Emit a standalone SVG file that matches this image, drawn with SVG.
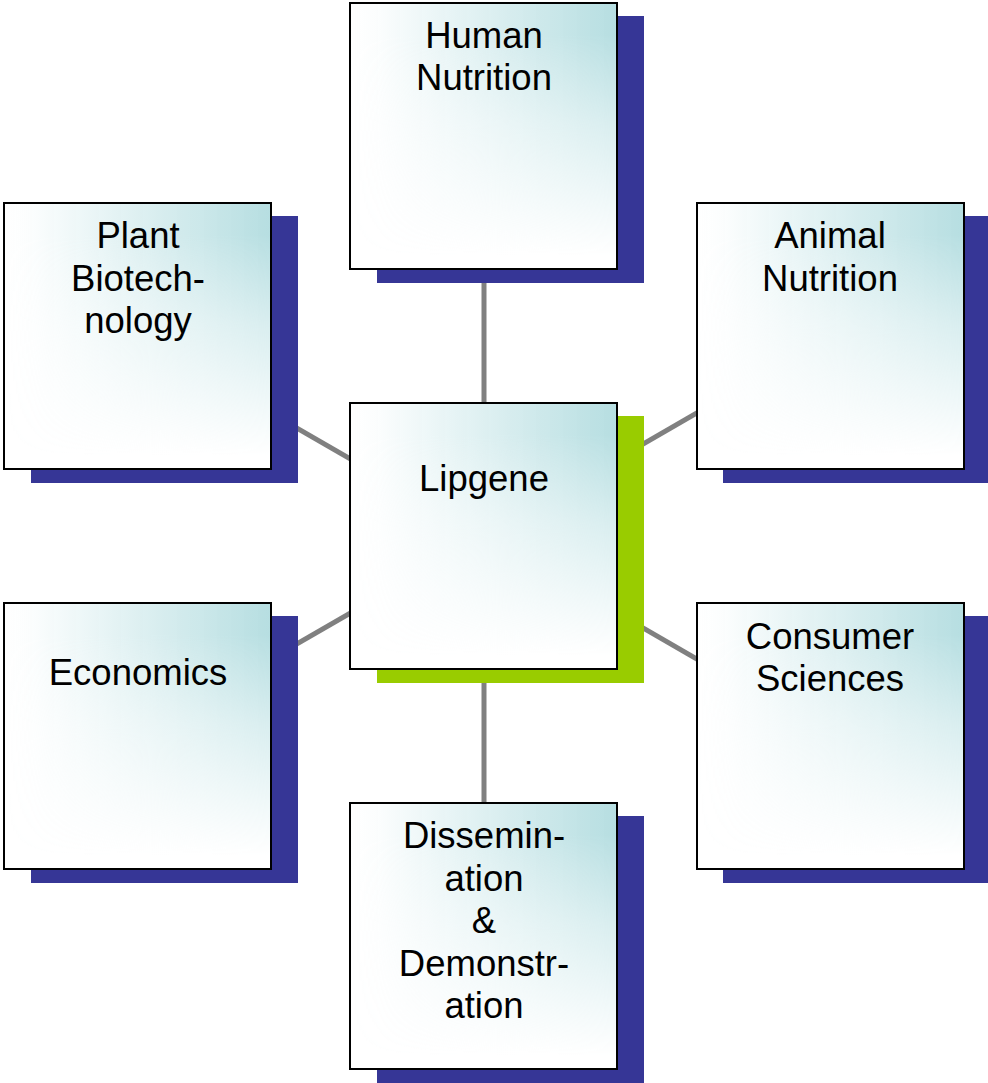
<svg xmlns="http://www.w3.org/2000/svg" width="988" height="1083" viewBox="0 0 988 1083">
<style>
.sh{fill:#363696}
.shg{fill:#99cc00}
.bg{fill:#ffffff}
.gr{fill:url(#gx)}
.bd{fill:none;stroke:#000;stroke-width:2}
.t{font-family:"Liberation Sans",Arial,sans-serif;font-size:36.5px;fill:#000;text-anchor:middle}
.c{stroke:#808080;stroke-width:5;fill:none}
</style>
<defs>
<linearGradient id="gx" x1="0" y1="0" x2="1" y2="0">
<stop offset="0" stop-color="#b6dee1" stop-opacity="0"/>
<stop offset="0.1" stop-color="#b6dee1" stop-opacity="0.05"/>
<stop offset="0.6" stop-color="#b6dee1" stop-opacity="0.55"/>
<stop offset="1" stop-color="#b6dee1" stop-opacity="1"/>
</linearGradient>
<linearGradient id="gy" x1="0" y1="0" x2="0" y2="1">
<stop offset="0" stop-color="#fff"/>
<stop offset="0.12" stop-color="#fff"/>
<stop offset="0.45" stop-color="#888"/>
<stop offset="0.95" stop-color="#000"/>
</linearGradient>
<mask id="m" maskContentUnits="objectBoundingBox"><rect width="1" height="1" fill="url(#gy)"/></mask>
</defs>
<rect width="988" height="1083" fill="#fff"/>
<g id="connectors">
<line class="c" x1="484" y1="136" x2="484" y2="536"/>
<line class="c" x1="484" y1="936" x2="484" y2="536"/>
<line class="c" x1="137" y1="336" x2="484" y2="536"/>
<line class="c" x1="137" y1="736" x2="484" y2="536"/>
<line class="c" x1="830" y1="336" x2="484" y2="536"/>
<line class="c" x1="830" y1="736" x2="484" y2="536"/>
</g>
<g id="human">
<rect class="sh" x="377" y="16" width="267" height="267"/>
<rect class="bg" x="350" y="3" width="267" height="266"/>
<rect class="gr" x="350" y="3" width="267" height="266" mask="url(#m)"/>
<rect class="bd" x="350" y="3" width="267" height="266"/>
<text class="t" x="484" y="48">Human</text>
<text class="t" x="484" y="90">Nutrition</text>
</g>
<g id="plant">
<rect class="sh" x="31" y="216" width="267" height="267"/>
<rect class="bg" x="4" y="203" width="267" height="266"/>
<rect class="gr" x="4" y="203" width="267" height="266" mask="url(#m)"/>
<rect class="bd" x="4" y="203" width="267" height="266"/>
<text class="t" x="138" y="248">Plant</text>
<text class="t" x="138" y="291">Biotech-</text>
<text class="t" x="138" y="333">nology</text>
</g>
<g id="animal">
<rect class="sh" x="723" y="216" width="265" height="267"/>
<rect class="bg" x="697" y="203" width="267" height="266"/>
<rect class="gr" x="697" y="203" width="267" height="266" mask="url(#m)"/>
<rect class="bd" x="697" y="203" width="267" height="266"/>
<text class="t" x="830" y="248">Animal</text>
<text class="t" x="830" y="291">Nutrition</text>
</g>
<g id="lipgene">
<rect class="shg" x="377" y="416" width="267" height="267"/>
<rect class="bg" x="350" y="403" width="267" height="266"/>
<rect class="gr" x="350" y="403" width="267" height="266" mask="url(#m)"/>
<rect class="bd" x="350" y="403" width="267" height="266"/>
<text class="t" x="484" y="491">Lipgene</text>
</g>
<g id="economics">
<rect class="sh" x="31" y="616" width="267" height="267"/>
<rect class="bg" x="4" y="603" width="267" height="266"/>
<rect class="gr" x="4" y="603" width="267" height="266" mask="url(#m)"/>
<rect class="bd" x="4" y="603" width="267" height="266"/>
<text class="t" x="138" y="685">Economics</text>
</g>
<g id="consumer">
<rect class="sh" x="723" y="616" width="265" height="267"/>
<rect class="bg" x="697" y="603" width="267" height="266"/>
<rect class="gr" x="697" y="603" width="267" height="266" mask="url(#m)"/>
<rect class="bd" x="697" y="603" width="267" height="266"/>
<text class="t" x="830" y="649">Consumer</text>
<text class="t" x="830" y="691">Sciences</text>
</g>
<g id="dissemination">
<rect class="sh" x="377" y="816" width="267" height="267"/>
<rect class="bg" x="350" y="803" width="267" height="266"/>
<rect class="gr" x="350" y="803" width="267" height="266" mask="url(#m)"/>
<rect class="bd" x="350" y="803" width="267" height="266"/>
<text class="t" x="484" y="848">Dissemin-</text>
<text class="t" x="484" y="891">ation</text>
<text class="t" x="484" y="933">&amp;</text>
<text class="t" x="484" y="976">Demonstr-</text>
<text class="t" x="484" y="1018">ation</text>
</g>
</svg>
